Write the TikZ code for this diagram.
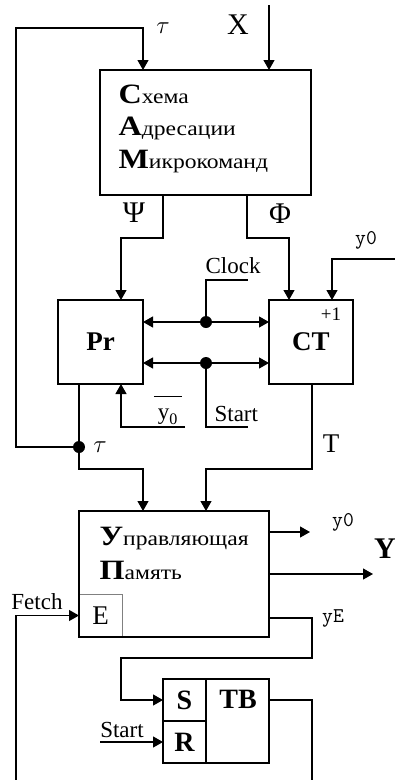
\documentclass[tikz,border=0pt]{standalone}
\usepackage{fontspec}
\usepackage{amsmath}
\setmainfont{Liberation Serif}
\newfontfamily\widefont[FakeStretch=1.15]{Liberation Serif}
\usetikzlibrary{arrows.meta,calc}
\newcommand\firstlet[1]{{\bfseries\fontsize{28}{28}\selectfont #1}}
\begin{document}
\begin{tikzpicture}[x=1pt,y=-1pt,line width=1.2pt,
  arr/.style={-{Triangle[length=10pt,width=11pt]}},
  blk/.style={draw,inner sep=0pt,outer sep=0pt},
  lbl/.style={inner sep=0pt,font=\fontsize{23}{23}\selectfont},
  ylbl/.style={inner sep=0pt,font=\ttfamily\fontsize{21}{21}\selectfont},
  big/.style={inner sep=0pt,font=\fontsize{30}{30}\selectfont},
  boxtxt/.style={inner sep=0pt,anchor=base west,font=\widefont\fontsize{20.5}{20.5}\selectfont},
  bold/.style={font=\bfseries\fontsize{27}{27}\selectfont},
  dot/.style={circle,fill,inner sep=0pt,minimum size=12pt}]
\useasboundingbox (0,0) rectangle (395,780);
% blocks
\node[blk,minimum width=211pt,minimum height=125pt] (sam) at (205.5,132.5) {};
\node[boxtxt] (s1) at (118,103) {\firstlet{С}хема};
\node[boxtxt] (s2) at (118,135) {\firstlet{А}дресации};
\node[boxtxt] (s3) at (118,168) {\firstlet{М}икрокоманд};
\node[blk,bold,minimum width=85pt,minimum height=84pt] (pr) at (100.5,342) {Pr};
\node[blk,bold,minimum width=84pt,minimum height=84pt] (ct) at (311,342) {CT};
\node[lbl,font=\fontsize{19}{19}\selectfont] (p1) at (331,314) {+1};
\node[draw=gray,line width=0.8pt,inner sep=0pt,outer sep=0pt,minimum width=43pt,minimum height=43pt,font=\fontsize{27}{27}\selectfont] (E) at (100.5,615.5) {E};
\node[blk,minimum width=190pt,minimum height=126pt] (mem) at (174,574) {};
\node[boxtxt] (m1) at (99,545) {\firstlet{У}правляющая};
\node[boxtxt] (m2) at (99,579) {\firstlet{П}амять};
\node[blk,minimum width=106pt,minimum height=84pt] (tb) at (216,721) {};
\node[blk,bold,font=\bfseries\fontsize{28}{28}\selectfont,minimum width=43pt,minimum height=42pt] (S) at (184.5,700) {S};
\node[blk,bold,font=\bfseries\fontsize{28}{28}\selectfont,minimum width=43pt,minimum height=42pt] (R) at (184.5,742) {R};
\node[bold,font=\bfseries\fontsize{28}{28}\selectfont,inner sep=0pt] (tbl) at (238,699) {TB};
% dots
\node[dot] (d1) at (79,447) {};
\node[dot] (d2) at (206,322) {};
\node[dot] (d3) at (206,363) {};
% helper coordinates
\coordinate (cX) at (269,5);
\coordinate (cT) at (143,28);
\coordinate (cPsi) at (163,238);
\coordinate (cPsiB) at (121,238);
\coordinate (cPhi) at (247,238);
\coordinate (cPhiB) at (289,238);
\coordinate (cY0a) at (395,259);
\coordinate (cY0b) at (332,259);
\coordinate (cClk) at (248,280);
\coordinate (cSt) at (248,427);
\coordinate (cNy) at (185,427);
\coordinate (cNyB) at (121,427);
\coordinate (cPrO) at (79,384);
\coordinate (cM1) at (143,469);
\coordinate (cCtO) at (312,384);
\coordinate (cM2) at (206,469);
\coordinate (cF) at (16,780);
\coordinate (cYo) at (310,532);
\coordinate (cYY) at (373,574);
\coordinate (cYE) at (312,618);
\coordinate (cSt2) at (100,742);
\coordinate (cTB) at (312,780);
% connectors
\draw[arr] (cX) -- (sam.north -| cX);
\draw[arr] (d1.center) -- (16,447) |- (cT) -- (sam.north -| cT);
\draw[arr] (sam.south -| cPsi) -- (cPsi) -- (cPsiB) -- (pr.north -| cPsiB);
\draw[arr] (sam.south -| cPhi) -- (cPhi) -- (cPhiB) -- (ct.north -| cPhiB);
\draw[arr] (cY0a) -- (cY0b) -- (ct.north -| cY0b);
\draw[arr] (d2.center) -- (pr.east |- d2);
\draw[arr] (d2.center) -- (ct.west |- d2);
\draw (d2.center) |- (cClk);
\draw[arr] (d3.center) -- (pr.east |- d3);
\draw[arr] (d3.center) -- (ct.west |- d3);
\draw (d3.center) |- (cSt);
\draw[arr] (cNy) -- (cNyB) -- (pr.south -| cNyB);
\draw (pr.south -| cPrO) -- (d1.center);
\draw[arr] (d1.center) |- (cM1) -- (mem.north -| cM1);
\draw[arr] (ct.south -| cCtO) |- (cM2) -- (mem.north -| cM2);
\draw[arr] (cF) |- (E.west);
\draw[arr] (mem.east |- cYo) -- (cYo);
\draw[arr] (mem.east |- cYY) -- (cYY);
\draw[arr] (mem.east |- cYE) -- (cYE) -- (312,658) -- (121,658) |- (S.west);
\draw[arr] (cSt2) -- (R.west);
\draw (tb.east |- S) -| (cTB);
% labels
\node[lbl,font=\fontsize{25}{25}\selectfont] (lt1) at (163,28) {$\tau$};
\node[big] (lX) at (238,25) {X};
\node[big] (lPsi) at (134,213) {Ψ};
\node[big] (lPhi) at (280,214) {Φ};
\node[ylbl] (ly0a) at (366,240) {y0};
\node[lbl,anchor=west] (lclk) at (205,266) {Clock};
\node[lbl,anchor=west] (lst) at (214,414) {Start};
\node[lbl] (lny) at (168,410) {$\overline{\,\text{y}_{\text{0}}\rule{0pt}{19pt}\,}$};
\node[lbl,font=\fontsize{27}{27}\selectfont] (lT) at (331,444) {T};
\node[lbl,font=\fontsize{25}{25}\selectfont] (lt2) at (100,447) {$\tau$};
\node[ylbl] (ly0b) at (343,522) {y0};
\node[big,font=\bfseries\fontsize{30}{30}\selectfont] (lY) at (385,549) {Y};
\node[ylbl] (lyE) at (333,618) {yE};
\node[lbl] (lF) at (37,602) {Fetch};
\node[lbl] (lst2) at (122,730) {Start};
\end{tikzpicture}
\end{document}
